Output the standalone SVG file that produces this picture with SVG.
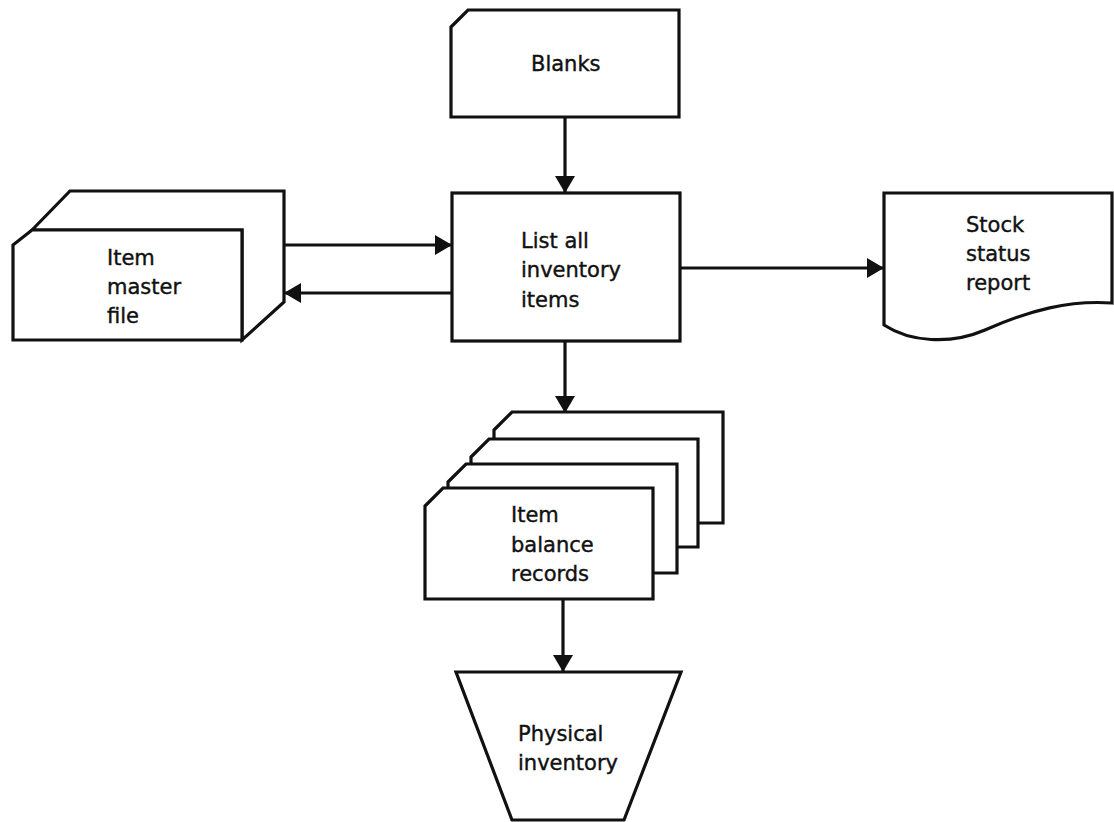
<svg xmlns="http://www.w3.org/2000/svg" width="1114" height="822" viewBox="0 0 1114 822">
<style>
.s{fill:#fff;stroke:#111;stroke-width:3.2;stroke-linejoin:miter}
.l{fill:none;stroke:#111;stroke-width:3.2}
.t{font-family:"DejaVu Sans","Liberation Sans",sans-serif;font-size:21px;fill:#111;stroke:#111;stroke-width:0.4}
</style>
<defs>
<marker id="a" viewBox="0 0 17 20" refX="17" refY="10" markerWidth="17" markerHeight="20" markerUnits="userSpaceOnUse" orient="auto">
<path d="M0,0 L17,10 L0,20 Z" fill="#111"/>
</marker>
</defs>
<rect width="1114" height="822" fill="#fff"/>
<g id="connectors">
<line class="l" x1="565" y1="117" x2="565" y2="193" marker-end="url(#a)"/>
<line class="l" x1="284" y1="245" x2="452" y2="245" marker-end="url(#a)"/>
<line class="l" x1="452" y1="293" x2="284" y2="293" marker-end="url(#a)"/>
<line class="l" x1="680" y1="268" x2="884" y2="268" marker-end="url(#a)"/>
<line class="l" x1="565" y1="341" x2="565" y2="413" marker-end="url(#a)"/>
<line class="l" x1="563" y1="599" x2="563" y2="672" marker-end="url(#a)"/>
</g>
<g id="blanks">
<path class="s" d="M451,27 L468,10 L679,10 L679,117 L451,117 Z"/>
<text class="t" x="531" y="71">Blanks</text>
</g>
<g id="list">
<rect class="s" x="452" y="193" width="228" height="148"/>
<text class="t" x="521" y="248">List all</text>
<text class="t" x="521" y="277">inventory</text>
<text class="t" x="521" y="307">items</text>
</g>
<g id="master">
<path class="s" d="M32,230 L70,191 L284,191 L284,302 L242,340 L242,230 Z"/>
<path class="s" d="M13,245 L32,230 L242,230 L242,340 L13,340 Z"/>
<text class="t" x="107" y="265">Item</text>
<text class="t" x="107" y="294">master</text>
<text class="t" x="107" y="323">file</text>
</g>
<g id="stock">
<path class="s" d="M884,193 L1112,193 L1112,303 C1070,300 1030,310 985,330 C950,345 910,342 884,325 Z"/>
<text class="t" x="966" y="232">Stock</text>
<text class="t" x="966" y="261">status</text>
<text class="t" x="966" y="290">report</text>
</g>
<g id="records">
<path class="s" d="M494,430 L512,412 L723,412 L723,523 L494,523 Z"/>
<path class="s" d="M471,457 L489,439 L698,439 L698,547 L471,547 Z"/>
<path class="s" d="M448,482 L466,464 L677,464 L677,573 L448,573 Z"/>
<path class="s" d="M425,506 L443,488 L653,488 L653,599 L425,599 Z"/>
<text class="t" x="511" y="522">Item</text>
<text class="t" x="511" y="552">balance</text>
<text class="t" x="511" y="581">records</text>
</g>
<g id="physical">
<path class="s" d="M456,672 L681,672 L624,820 L512,820 Z"/>
<text class="t" x="518" y="741">Physical</text>
<text class="t" x="518" y="770">inventory</text>
</g>
</svg>
